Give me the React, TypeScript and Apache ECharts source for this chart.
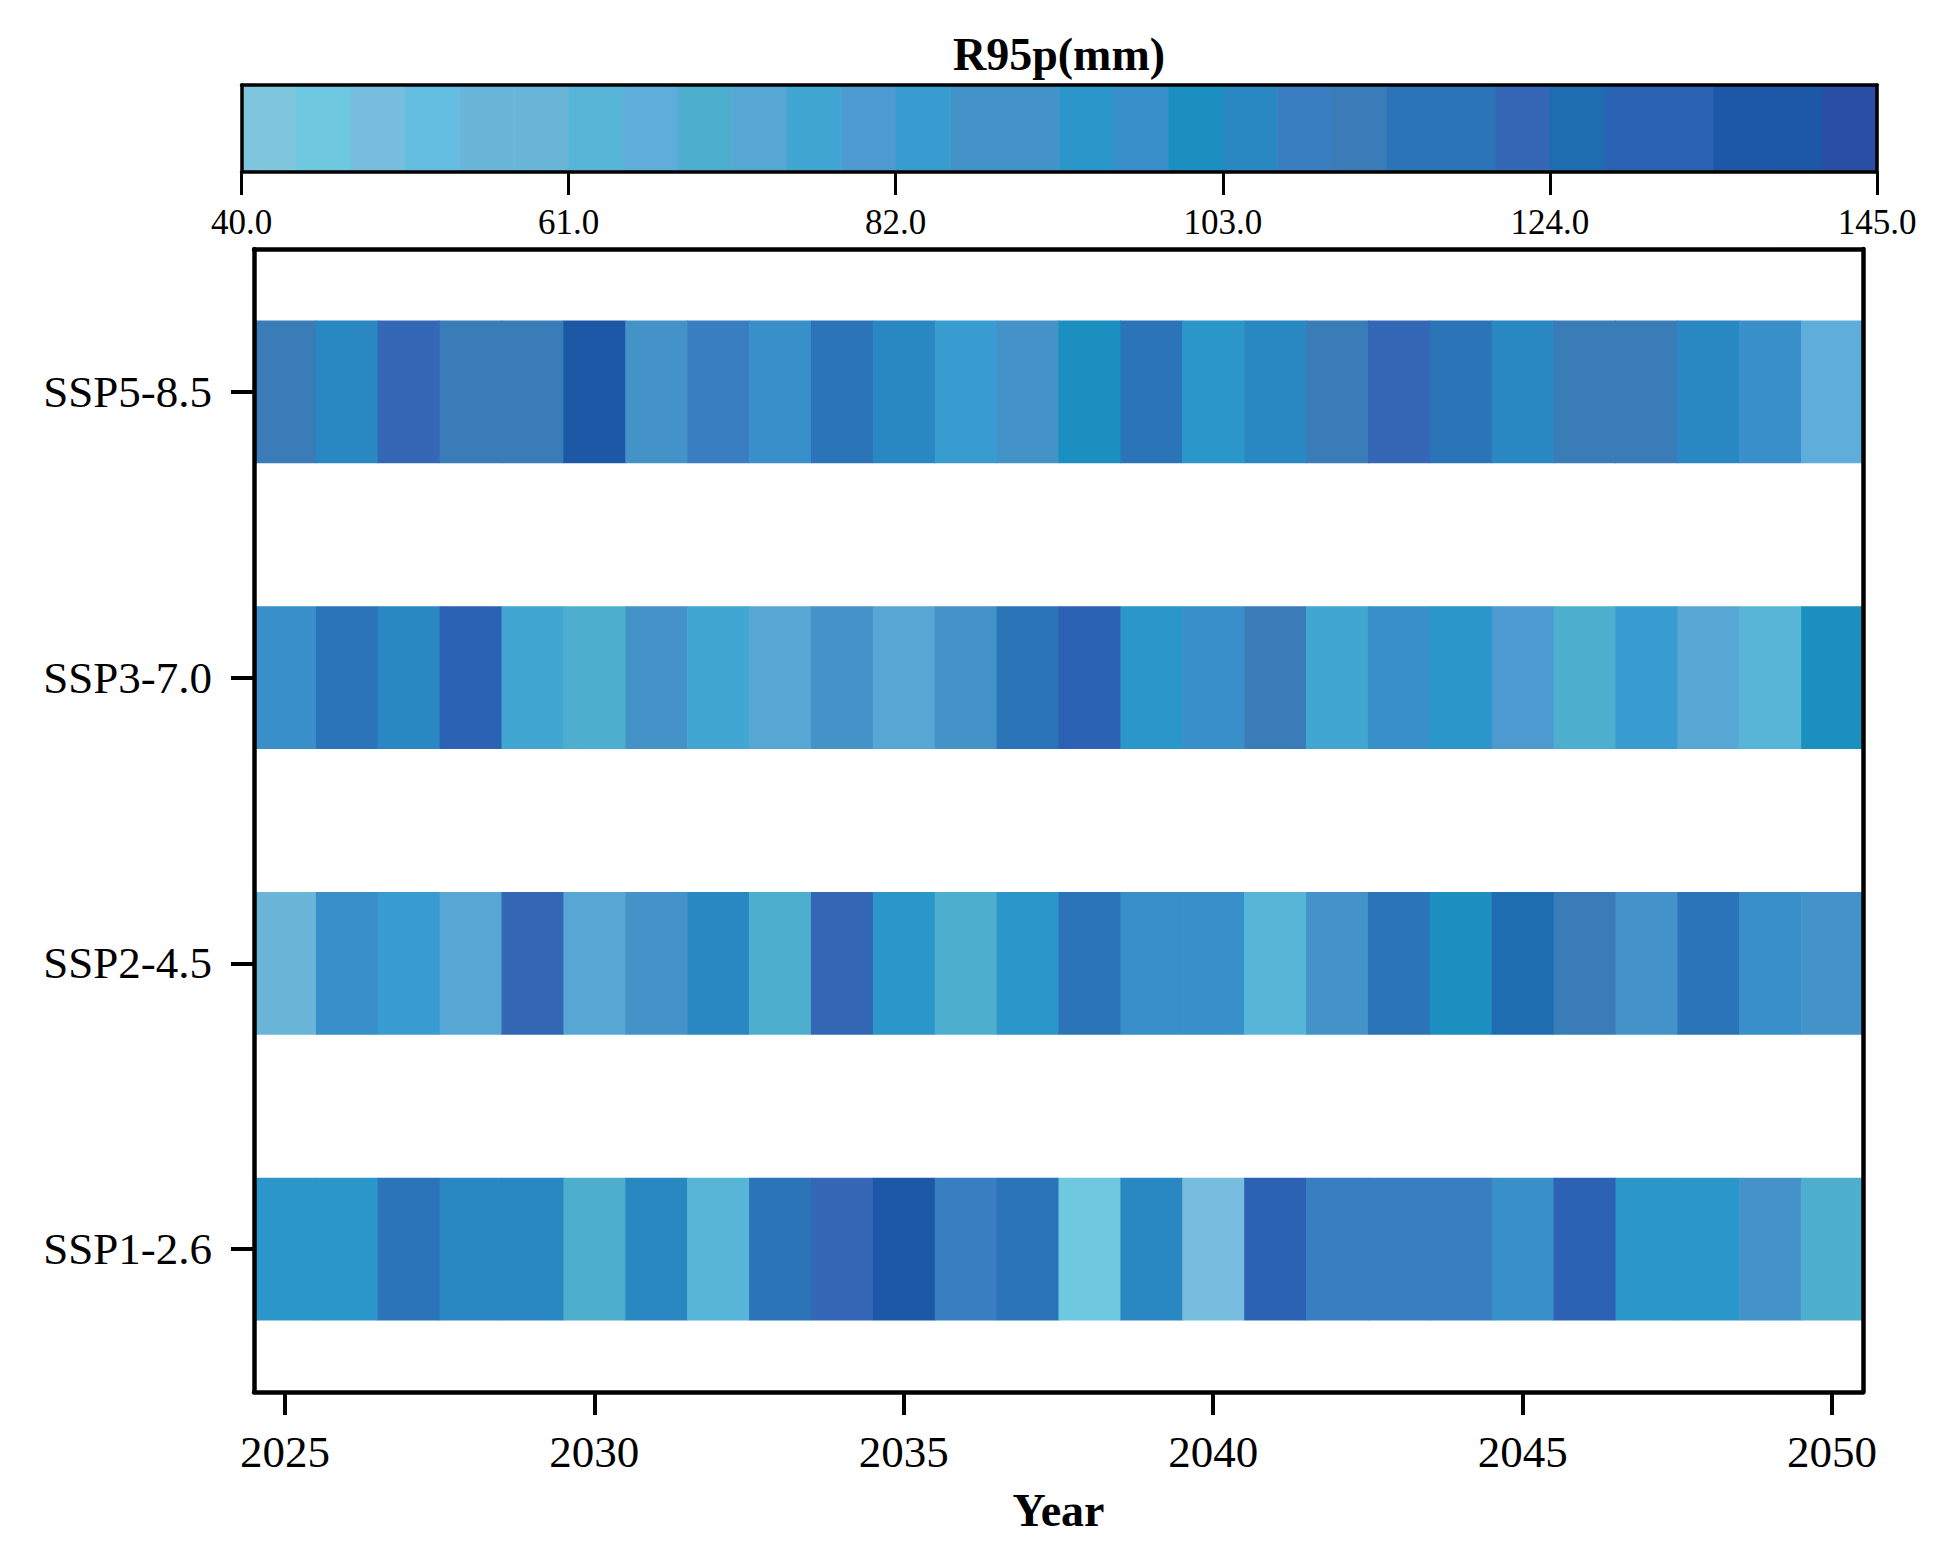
import React, { useEffect, useRef } from 'react';
import * as echarts from 'echarts';

// ---- Data ----
const years = ['2025','2026','2027','2028','2029','2030','2031','2032','2033','2034','2035','2036','2037','2038','2039','2040','2041','2042','2043','2044','2045','2046','2047','2048','2049','2050'];
const scenarios = ['SSP1-2.6', 'SSP2-4.5', 'SSP3-7.0', 'SSP5-8.5'];

const ssp126 = [94.3,94.3,115.3,104.8,104.8,69.8,104.8,62.8,115.3,122.3,136.3,108.3,115.3,45.3,104.8,48.8,129.3,108.3,108.3,108.3,97.8,129.3,94.3,94.3,87.3,69.8];
const ssp245 = [55.8,97.8,83.8,73.3,122.3,73.3,87.3,104.8,69.8,122.3,94.3,69.8,94.3,115.3,97.8,97.8,62.8,87.3,115.3,101.3,125.8,111.8,87.3,115.3,97.8,87.3];
const ssp370 = [97.8,115.3,104.8,129.3,76.8,69.8,87.3,76.8,73.3,87.3,73.3,87.3,115.3,129.3,94.3,97.8,111.8,76.8,97.8,94.3,80.3,69.8,83.8,73.3,62.8,101.3];
const ssp585 = [111.8,104.8,122.3,111.8,111.8,136.3,87.3,108.3,97.8,115.3,104.8,83.8,87.3,101.3,115.3,94.3,104.8,111.8,122.3,115.3,104.8,111.8,111.8,104.8,97.8,66.3];

const colorbarColors = [
  '#7EC6DE','#6EC8DF','#77BDE0','#63BDE0','#6AB6D8','#6AB6D8','#57B6D8','#5EADDB','#4DAFCD','#56A7D3',
  '#42A6D2','#4D9AD1','#389CD1','#4393C8','#4393C8','#2A96C9','#388FCA','#1A8FC0','#2987C2','#3A7EC2',
  '#3A7CB7','#2B74B8','#2B74B8','#3468B7','#1E6DB0','#2C62B3','#2C62B3','#1D58A7','#1D58A7','#294EA3'
];
const colorbarTicks = [40, 61, 82, 103, 124, 145];
const vMin = 40;
const vMax = 145;
const colorbarTitle = 'R95p(mm)';
const xAxisTitle = 'Year';

const FONT = '"Liberation Serif", "Times New Roman", serif';

export default function App() {
  const ref = useRef<HTMLDivElement>(null);

  useEffect(() => {
    if (!ref.current) return;
    const chart = echarts.init(ref.current, undefined, { renderer: 'svg' });

    const rows = [ssp126, ssp245, ssp370, ssp585];
    const cells: number[][] = [];
    rows.forEach((row, j) => row.forEach((v, i) => cells.push([i, j, v])));

    const step = (vMax - vMin) / colorbarColors.length;
    const pieces = colorbarColors.map((c, i) => {
      const p: any = { gte: vMin + step * i, color: c };
      if (i < colorbarColors.length - 1) p.lt = vMin + step * (i + 1);
      else p.lte = vMax;
      return p;
    });
    const barData = colorbarColors.map((c, i) => [vMin + step * i, vMin + step * (i + 1), i]);

    const lineW = 4.5;
    const cbLineW = 3.5;
    const frameAxis = (extra: any, w: number) => ({
      type: 'value', min: 0, max: 1, z: 10,
      axisLine: { show: true, onZero: false, lineStyle: { color: '#000', width: w } },
      axisTick: { show: false }, axisLabel: { show: false }, splitLine: { show: false },
      ...extra,
    });

    const option: any = {
      animation: false,
      backgroundColor: '#fff',
      textStyle: { fontFamily: FONT },
      grid: [
        { left: 254, top: 249, width: 1609, height: 1143 },
        { left: 241.5, top: 85, width: 1635.5, height: 87 },
      ],
      visualMap: {
        type: 'piecewise', show: false, seriesIndex: 0, dimension: 2, pieces,
      },
      graphic: [
        {
          type: 'text', x: 1059, y: 54,
          style: {
            text: colorbarTitle, fill: '#000', font: `bold 46px ${FONT}`,
            textAlign: 'center', textVerticalAlign: 'middle',
          },
        },
      ],
      xAxis: [
        {
          type: 'category', data: years, gridIndex: 0, position: 'bottom', z: 10,
          boundaryGap: true,
          axisLine: { show: true, lineStyle: { color: '#000', width: lineW } },
          axisTick: {
            show: true, alignWithLabel: true, length: 23,
            interval: (i: number) => i % 5 === 0,
            lineStyle: { color: '#000', width: 4 },
          },
          axisLabel: {
            interval: (i: number) => i % 5 === 0,
            fontSize: 45, color: '#000', fontFamily: FONT, margin: 37,
          },
          name: xAxisTitle, nameLocation: 'middle', nameGap: 95,
          nameTextStyle: { fontSize: 46, fontWeight: 'bold', color: '#000', fontFamily: FONT },
          splitLine: { show: false },
        },
        frameAxis({ gridIndex: 0, position: 'top' }, lineW),
        {
          type: 'value', gridIndex: 1, min: vMin, max: vMax, position: 'bottom', z: 10,
          axisLine: { show: true, onZero: false, lineStyle: { color: '#000', width: cbLineW } },
          axisTick: {
            show: true, length: 23, customValues: colorbarTicks,
            lineStyle: { color: '#000', width: 3 },
          },
          axisLabel: {
            customValues: colorbarTicks, formatter: (v: number) => Number(v).toFixed(1),
            fontSize: 35, color: '#000', fontFamily: FONT, margin: 33,
            showMinLabel: true, showMaxLabel: true, hideOverlap: false,
          },
          splitLine: { show: false },
        },
        frameAxis({ gridIndex: 1, position: 'top' }, cbLineW),
      ],
      yAxis: [
        {
          type: 'category', data: scenarios, gridIndex: 0, position: 'left', z: 10,
          boundaryGap: true,
          axisLine: { show: true, lineStyle: { color: '#000', width: lineW } },
          axisTick: { show: true, alignWithLabel: true, length: 23, lineStyle: { color: '#000', width: 4 } },
          axisLabel: { fontSize: 45, color: '#000', fontFamily: FONT, margin: 42 },
          splitLine: { show: false },
        },
        frameAxis({ gridIndex: 0, position: 'right' }, lineW),
        frameAxis({ gridIndex: 1, position: 'left' }, cbLineW),
        frameAxis({ gridIndex: 1, position: 'right' }, cbLineW),
      ],
      series: [
        {
          type: 'custom', xAxisIndex: 0, yAxisIndex: 0,
          data: cells,
          renderItem: (params: any, api: any) => {
            const c = api.coord([api.value(0), api.value(1)]);
            const size = api.size([1, 1]);
            const w = size[0];
            const h = size[1] * 0.5;
            return {
              type: 'rect',
              shape: { x: c[0] - w / 2, y: c[1] - h / 2, width: w + 0.6, height: h },
              style: { fill: api.visual('color') },
            };
          },
        },
        {
          type: 'custom', xAxisIndex: 2, yAxisIndex: 2,
          data: barData,
          renderItem: (params: any, api: any) => {
            const p0 = api.coord([api.value(0), 1]);
            const p1 = api.coord([api.value(1), 0]);
            return {
              type: 'rect',
              shape: { x: p0[0], y: p0[1], width: p1[0] - p0[0] + 0.6, height: p1[1] - p0[1] },
              style: { fill: colorbarColors[api.value(2)] },
            };
          },
        },
      ],
    };

    chart.setOption(option);
    return () => chart.dispose();
  }, []);

  return (
    <div
      ref={ref}
      style={{ position: 'fixed', left: 0, top: 0, width: 1953, height: 1567, background: '#fff' }}
    />
  );
}
